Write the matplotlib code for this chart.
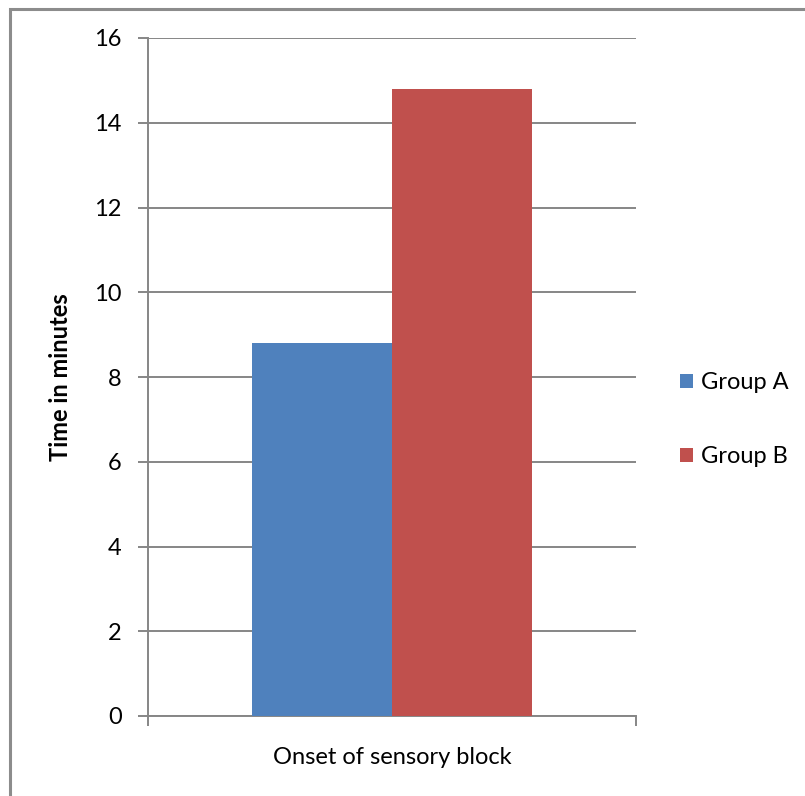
import matplotlib.pyplot as plt
from matplotlib.patches import Rectangle

# Onset of sensory block, minutes
groups = ["Group A", "Group B"]
onset_minutes = [8.8, 14.8]
category = "Onset of sensory block"
y_ticks = [0, 2, 4, 6, 8, 10, 12, 14, 16]

bar_colors = ["#4f81bd", "#c0504d"]
grid_gray = "#868686"

plt.rcParams["font.family"] = ["Lato", "DejaVu Sans"]

fig = plt.figure(figsize=(8.05, 7.96), dpi=100)
ax = fig.add_axes([148 / 805, 1 - 716 / 796, 488 / 805, 678 / 796])

# frame around the whole chart area
fig.patches.append(Rectangle((10 / 805, -0.1), 1.2, (796 - 9) / 796 + 0.1,
                             transform=fig.transFigure, fill=False,
                             edgecolor="#8c8c8c", linewidth=2.2))

width = 0.287
offsets = [-width / 2, width / 2]
for name, val, off, col in zip(groups, onset_minutes, offsets, bar_colors):
    ax.bar(off, val, width=width, color=col, label=name, zorder=3)

ax.set_xlim(-0.5, 0.5)
ax.set_ylim(0, 16)
ax.set_yticks(y_ticks)
ax.set_xticks([-0.5, 0.5])
ax.set_xticklabels(["", ""])
ax.yaxis.grid(True, color=grid_gray, linewidth=1.4, zorder=0)

for side in ["top", "right"]:
    ax.spines[side].set_visible(False)
for side in ["left", "bottom"]:
    ax.spines[side].set_color(grid_gray)
    ax.spines[side].set_linewidth(1.4)
ax.tick_params(axis="both", colors=grid_gray, width=1.4, length=7,
               labelcolor="black", labelsize=17)
ax.tick_params(axis="y", pad=12)

ax.set_xlabel(category, fontsize=17, labelpad=12)
ax.set_ylabel("Time in minutes", fontsize=17, fontweight="bold", labelpad=16)

ax.legend(loc="center left", bbox_to_anchor=(1.047, 0.437), frameon=False,
          fontsize=17, handlelength=0.55, handleheight=0.55,
          handletextpad=0.35, labelspacing=2.25)

fig.savefig("out.png", dpi=100)
